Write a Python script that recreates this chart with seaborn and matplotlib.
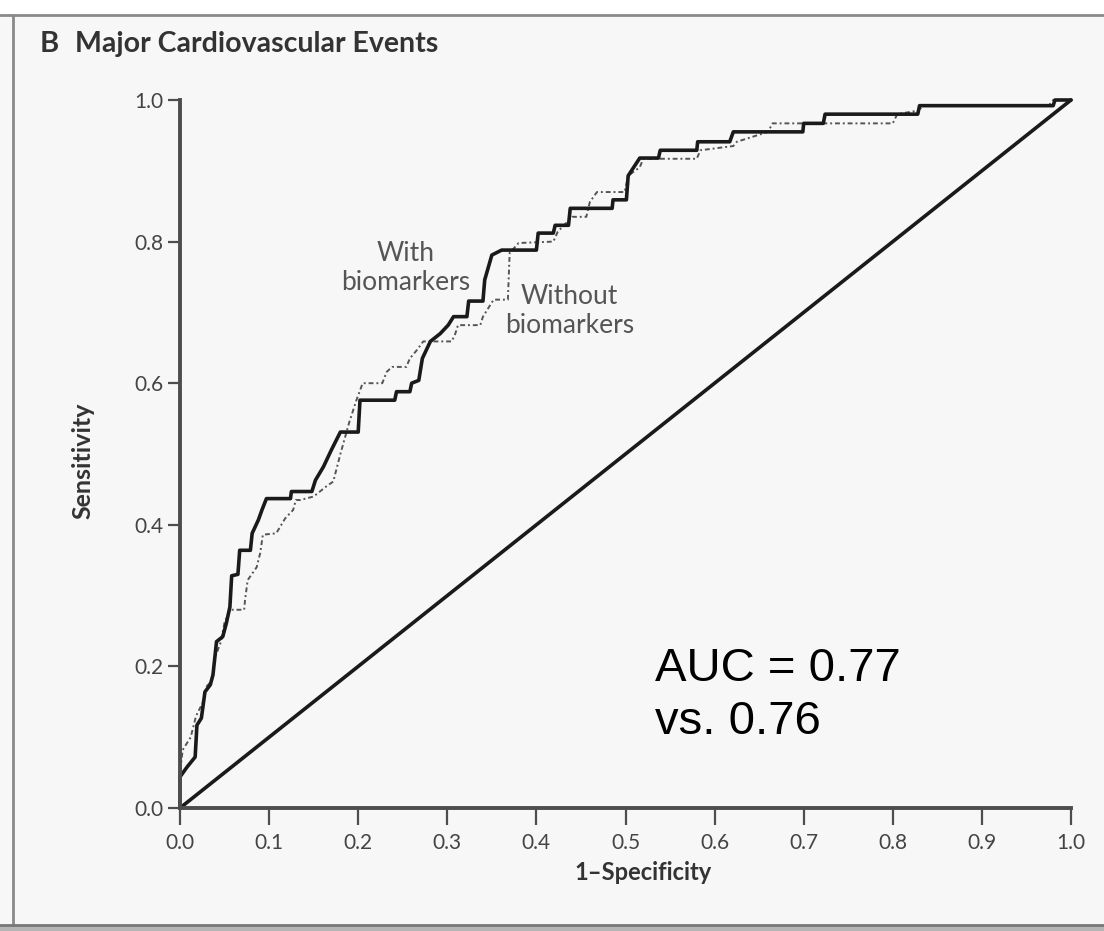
import pandas as pd
import numpy as np
import seaborn as sns
import matplotlib.pyplot as plt
from matplotlib.lines import Line2D
from matplotlib.patches import Rectangle

OUTPUT_FILE = "out.png"

# ROC vertices: model WITH biomarkers
with_fpr = [0.000, 0.000, 0.008, 0.017, 0.019, 0.024, 0.028, 0.034, 0.037, 0.041,
            0.048, 0.052, 0.056, 0.058, 0.065, 0.067, 0.079, 0.081, 0.088, 0.092,
            0.097, 0.124, 0.125, 0.148, 0.152, 0.161, 0.170, 0.180, 0.200, 0.202,
            0.241, 0.243, 0.258, 0.260, 0.268, 0.272, 0.281, 0.292, 0.301, 0.307,
            0.322, 0.324, 0.340, 0.342, 0.350, 0.361, 0.400, 0.402, 0.419, 0.421,
            0.436, 0.438, 0.485, 0.486, 0.501, 0.503, 0.516, 0.537, 0.539, 0.580,
            0.581, 0.617, 0.621, 0.699, 0.700, 0.722, 0.724, 0.828, 0.830, 0.980,
            0.982, 1.000]
with_tpr = [0.000, 0.044, 0.058, 0.072, 0.117, 0.127, 0.164, 0.174, 0.188, 0.235,
            0.242, 0.261, 0.284, 0.328, 0.330, 0.364, 0.364, 0.388, 0.407, 0.421,
            0.437, 0.437, 0.447, 0.447, 0.463, 0.482, 0.506, 0.531, 0.531, 0.576,
            0.576, 0.588, 0.588, 0.600, 0.604, 0.635, 0.659, 0.670, 0.682, 0.694,
            0.694, 0.716, 0.716, 0.746, 0.781, 0.788, 0.788, 0.812, 0.812, 0.823,
            0.823, 0.847, 0.847, 0.859, 0.859, 0.893, 0.918, 0.918, 0.929, 0.929,
            0.941, 0.941, 0.955, 0.955, 0.967, 0.967, 0.980, 0.980, 0.992, 0.992,
            1.000, 1.000]

# model WITHOUT biomarkers
without_fpr = [0.000, 0.000, 0.003, 0.012, 0.018, 0.026, 0.030, 0.036, 0.040, 0.046,
               0.050, 0.056, 0.072, 0.073, 0.076, 0.086, 0.090, 0.093, 0.108, 0.118,
               0.127, 0.130, 0.135, 0.150, 0.165, 0.172, 0.180, 0.190, 0.198, 0.205,
               0.227, 0.232, 0.238, 0.254, 0.258, 0.266, 0.273, 0.305, 0.309, 0.312,
               0.337, 0.340, 0.352, 0.368, 0.370, 0.380, 0.419, 0.424, 0.440, 0.456,
               0.460, 0.468, 0.499, 0.503, 0.516, 0.520, 0.580, 0.584, 0.621, 0.625,
               0.660, 0.665, 0.800, 0.805, 0.828, 0.835, 0.975, 0.980, 1.000]
without_tpr = [0.000, 0.050, 0.082, 0.100, 0.130, 0.150, 0.172, 0.180, 0.215, 0.235,
               0.262, 0.280, 0.280, 0.294, 0.322, 0.340, 0.360, 0.386, 0.388, 0.409,
               0.421, 0.435, 0.435, 0.440, 0.455, 0.461, 0.500, 0.545, 0.576, 0.600,
               0.600, 0.616, 0.623, 0.623, 0.635, 0.647, 0.659, 0.659, 0.670, 0.682,
               0.682, 0.694, 0.718, 0.718, 0.784, 0.798, 0.800, 0.814, 0.835, 0.835,
               0.856, 0.870, 0.870, 0.893, 0.905, 0.917, 0.917, 0.929, 0.935, 0.941,
               0.955, 0.967, 0.967, 0.980, 0.985, 0.992, 0.992, 1.000, 1.000]

chance = [0.0, 1.0]
ticks = [0.0, 0.1, 0.2, 0.3, 0.4, 0.5, 0.6, 0.7, 0.8, 0.9, 1.0]
yticks = [0.0, 0.2, 0.4, 0.6, 0.8, 1.0]

df_with = pd.DataFrame({"fpr": with_fpr, "tpr": with_tpr})
df_without = pd.DataFrame({"fpr": without_fpr, "tpr": without_tpr})

sns.set_style("white")
plt.rcParams["font.family"] = ["Lato", "DejaVu Sans"]
BG = "#f7f7f7"

fig = plt.figure(figsize=(11.04, 9.31), dpi=100, facecolor=BG)
ax = fig.add_axes([180 / 1104, 123 / 931, 891 / 1104, 708 / 931])
ax.set_facecolor(BG)

# reference line
sns.lineplot(x=chance, y=chance, ax=ax, color="#1a1a1a", linewidth=2.6, clip_on=False)
# ROC curves
sns.lineplot(data=df_without, x="fpr", y="tpr", sort=False, estimator=None, ax=ax,
             color="#555555", linewidth=1.4, linestyle=(0, (2.5, 1.5, 1, 1.5)), clip_on=False)
sns.lineplot(data=df_with, x="fpr", y="tpr", sort=False, estimator=None, ax=ax,
             color="#1a1a1a", linewidth=2.6, clip_on=False)

ax.set_xlim(0, 1)
ax.set_ylim(0, 1)
ax.set_xticks(ticks)
ax.set_yticks(yticks)
ax.set_xticklabels([f"{t:.1f}" for t in ticks])
ax.set_yticklabels([f"{t:.1f}" for t in yticks])
sns.despine(ax=ax)
for s in ["left", "bottom"]:
    ax.spines[s].set_linewidth(2.8)
    ax.spines[s].set_color("#4d4d4d")
ax.tick_params(axis="x", direction="out", length=12, width=1.6, color="#4d4d4d",
               labelsize=15, labelcolor="#444444", pad=6, bottom=True)
ax.tick_params(axis="y", direction="out", length=9, width=1.6, color="#4d4d4d",
               labelsize=15, labelcolor="#444444", pad=3, left=True)

ax.set_xlabel("1\u2013Specificity", fontsize=17, fontweight="bold", color="#333333")
ax.set_ylabel("Sensitivity", fontsize=18, fontweight="bold", color="#333333")
ax.xaxis.set_label_coords(0.52, -0.075)
ax.yaxis.set_label_coords(-0.096, 0.49)

# curve labels
ax.text(0.253, 0.763, "With\nbiomarkers", ha="center", va="center", fontsize=19,
        color="#555555", linespacing=1.2)
ax.text(0.437, 0.702, "Without\nbiomarkers", ha="center", va="center", fontsize=19,
        color="#555555", linespacing=1.2)
ax.text(0.533, 0.228, "AUC = 0.77\nvs. 0.76", ha="left", va="top", fontsize=34,
        color="black", family=["Liberation Sans", "DejaVu Sans"], linespacing=1.28)

# title
fig.text(40 / 1104, 1 - 44 / 931, "B", fontsize=21, fontweight="bold", color="#333333", va="center")
fig.text(75 / 1104, 1 - 44 / 931, "Major Cardiovascular Events", fontsize=20.5,
         fontweight="bold", color="#333333", va="center")

# frame around the panel
fig.add_artist(Rectangle((0, 1 - 15 / 931), 1, 15 / 931, transform=fig.transFigure,
                         facecolor="white", edgecolor="none"))
fig.add_artist(Line2D([0, 1], [1 - 15 / 931] * 2, transform=fig.transFigure,
                      color="#8a8a8a", linewidth=2))
fig.add_artist(Line2D([13 / 1104] * 2, [6 / 931, 1 - 15 / 931], transform=fig.transFigure,
                      color="#8a8a8a", linewidth=2))
fig.add_artist(Rectangle((0, 0), 1, 6 / 931, transform=fig.transFigure,
                         facecolor="#b5b5b5", edgecolor="none"))
fig.add_artist(Line2D([0, 1], [6 / 931] * 2, transform=fig.transFigure,
                      color="#777777", linewidth=2))

plt.savefig(OUTPUT_FILE, dpi=100, facecolor=BG)
